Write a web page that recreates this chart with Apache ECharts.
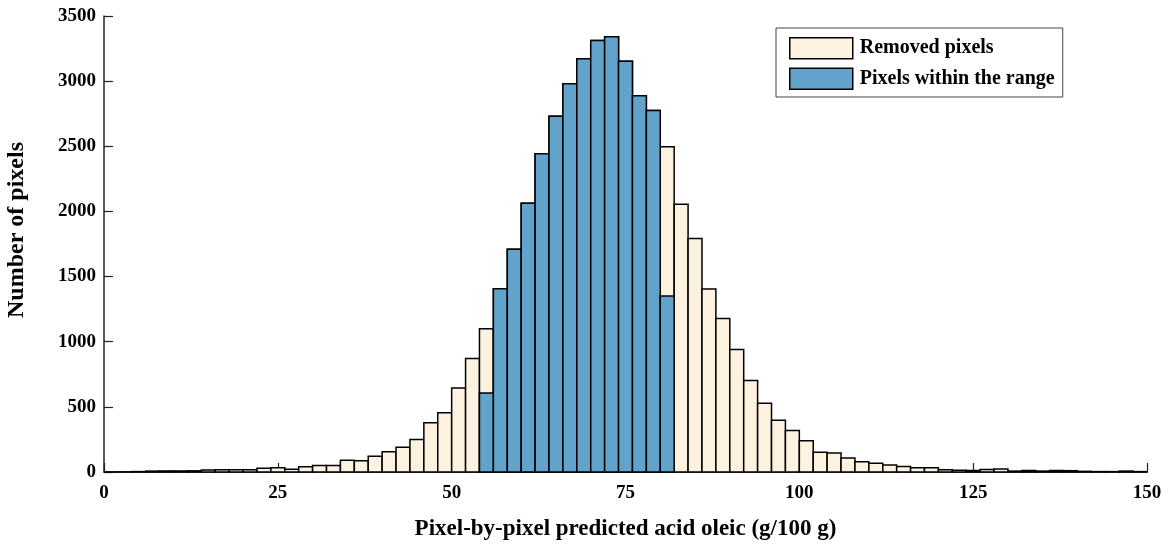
<!DOCTYPE html>
<html>
<head>
<meta charset="utf-8">
<script src="https://cdn.jsdelivr.net/npm/echarts@6/dist/echarts.min.js"></script>
<style>
  html, body { margin: 0; padding: 0; background: #fff; }
  #chart { width: 1171px; height: 553px; }
</style>
</head>
<body>
<div id="chart"></div>
<script>
// histogram bins, width 2 (g/100 g)
const binEdges = [0, 2, 4, 6, 8, 10, 12, 14, 16, 18, 20, 22, 24, 26, 28, 30, 32, 34, 36, 38,
  40, 42, 44, 46, 48, 50, 52, 54, 56, 58, 60, 62, 64, 66, 68, 70, 72, 74, 76, 78,
  80, 82, 84, 86, 88, 90, 92, 94, 96, 98, 100, 102, 104, 106, 108, 110, 112, 114, 116, 118,
  120, 122, 124, 126, 128, 130, 132, 134, 136, 138, 140, 142, 144, 146, 148, 150]

// all pixels (shown as removed where not covered)
const allCounts = [0, 1, 3, 7, 8, 8, 9, 16, 17, 17, 18, 29, 33, 22, 40, 49, 49, 90, 87, 120,
  156, 190, 250, 378, 455, 645, 872, 1100, 1407, 1710, 2062, 2442, 2730, 2980, 3172, 3312, 3340, 3153, 2887, 2775,
  2497, 2056, 1793, 1405, 1178, 940, 702, 527, 398, 319, 239, 151, 146, 107, 78, 68, 53, 42, 32, 32,
  18, 13, 12, 20, 23, 7, 12, 7, 12, 10, 5, 3, 3, 7, 3]

// pixels within the range, bins 54..82
const rangeStart = [54, 56, 58, 60, 62, 64, 66, 68, 70, 72, 74, 76, 78, 80]
const rangeCounts = [606, 1407, 1710, 2062, 2442, 2730, 2980, 3172, 3312, 3340, 3153, 2887, 2775, 1351]

const xTicks = [0, 25, 50, 75, 100, 125, 150]
const yTicks = [0, 500, 1000, 1500, 2000, 2500, 3000, 3500]

const creamColor = '#fdf2e0'
const blueColor = '#62a3cb'
const font = '"Liberation Serif", "Times New Roman", serif'

const removedData = allCounts.map((c, i) => [binEdges[i], binEdges[i + 1], c])
const rangeData = rangeCounts.map((c, i) => [rangeStart[i], rangeStart[i] + 2, c])

function makeRender(fill) {
    return function (params, api) {
        const p0 = api.coord([api.value(0), api.value(2)])
        const p1 = api.coord([api.value(1), 0])
        return {
            type: 'rect',
            shape: { x: p0[0], y: p0[1], width: p1[0] - p0[0], height: p1[1] - p0[1] },
            style: { fill: fill, stroke: '#000', lineWidth: 1.5 }
        }
    }
}

const chart = echarts.init(document.getElementById('chart'))
chart.setOption({
    animation: false,
    grid: { left: 104, right: 24, top: 16, bottom: 81, outerBoundsMode: 'none', containLabel: false },
    legend: {
        left: 776,
        top: 28,
        orient: 'vertical',
        backgroundColor: '#fff',
        borderColor: '#444',
        borderWidth: 1,
        padding: [9, 8, 7, 13],
        itemWidth: 63,
        itemHeight: 21,
        itemGap: 8,
        icon: 'rect',
        textStyle: { fontFamily: font, fontWeight: 'bold', fontSize: 20, color: '#000', padding: [0, 0, 0, 2] },
        data: [
            { name: 'Removed pixels', itemStyle: { color: creamColor, borderColor: '#000', borderWidth: 1.5 } },
            { name: 'Pixels within the range', itemStyle: { color: blueColor, borderColor: '#000', borderWidth: 1.5 } }
        ]
    },
    xAxis: {
        type: 'value',
        min: xTicks[0],
        max: xTicks[xTicks.length - 1],
        interval: 25,
        name: 'Pixel-by-pixel predicted acid oleic (g/100 g)',
        nameLocation: 'middle',
        nameGap: 46,
        nameTextStyle: { fontFamily: font, fontWeight: 'bold', fontSize: 23, color: '#000' },
        axisLine: { lineStyle: { color: '#222', width: 1.5 } },
        axisTick: { inside: true, length: 9, lineStyle: { color: '#222', width: 1.2 } },
        axisLabel: { fontFamily: font, fontWeight: 'bold', fontSize: 19, color: '#000', margin: 12, formatter: v => String(v) },
        splitLine: { show: false }
    },
    yAxis: {
        type: 'value',
        min: yTicks[0],
        max: yTicks[yTicks.length - 1],
        interval: 500,
        name: 'Number of pixels',
        nameLocation: 'middle',
        nameGap: 75,
        nameTextStyle: { fontFamily: font, fontWeight: 'bold', fontSize: 24, color: '#000', padding: [0, 0, 0, 28] },
        axisLine: { show: true, lineStyle: { color: '#222', width: 1.5 } },
        axisTick: { show: true, inside: true, length: 9, lineStyle: { color: '#222', width: 1.2 } },
        axisLabel: { fontFamily: font, fontWeight: 'bold', fontSize: 19, color: '#000', margin: 8, formatter: v => String(v) },
        splitLine: { show: false }
    },
    series: [
        {
            name: 'Removed pixels',
            type: 'custom',
            renderItem: makeRender(creamColor),
            itemStyle: { color: creamColor, borderColor: '#000', borderWidth: 1.5 },
            encode: { x: [0, 1], y: 2 },
            data: removedData,
            z: 3
        },
        {
            name: 'Pixels within the range',
            type: 'custom',
            renderItem: makeRender(blueColor),
            itemStyle: { color: blueColor, borderColor: '#000', borderWidth: 1.5 },
            encode: { x: [0, 1], y: 2 },
            data: rangeData,
            z: 4
        }
    ]
})
</script>
</body>
</html>
